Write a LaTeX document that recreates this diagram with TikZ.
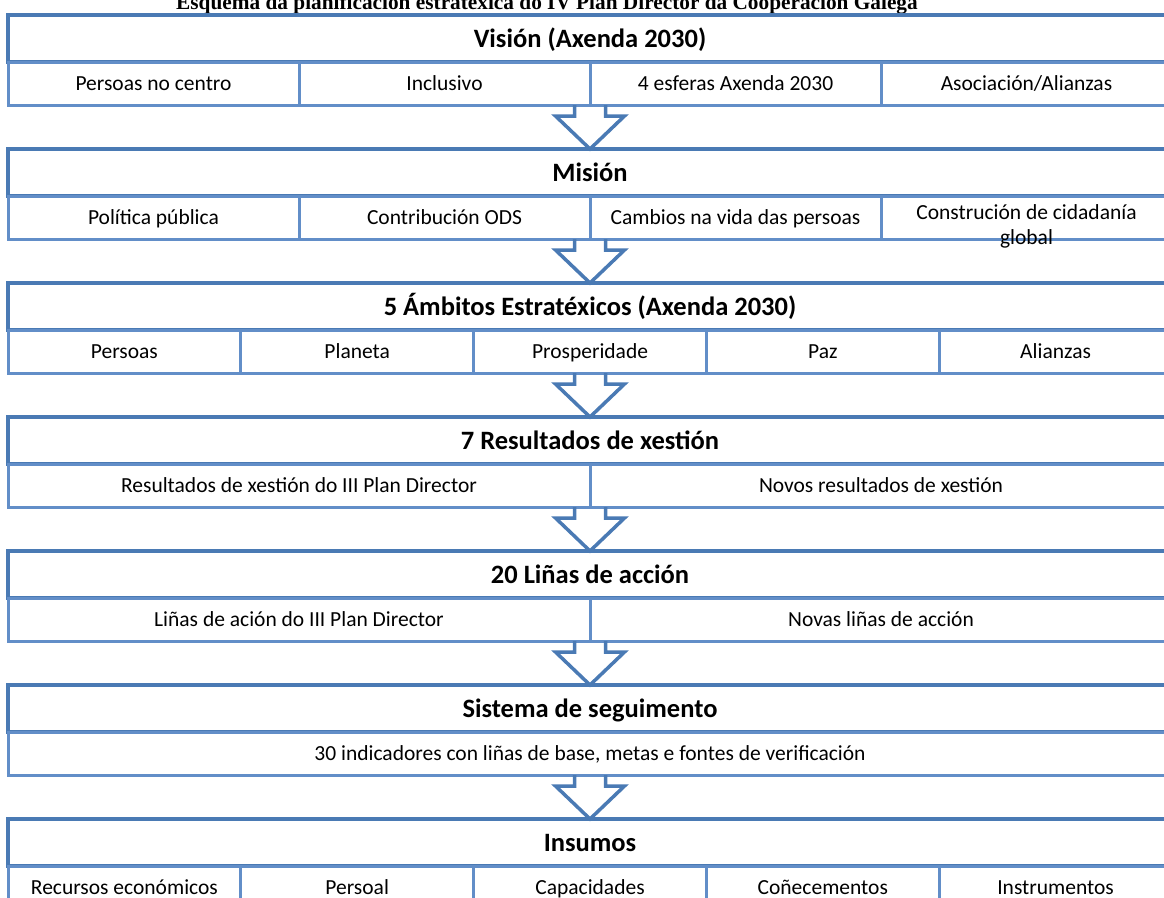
\documentclass[tikz,border=0pt]{standalone}
\usepackage{fontspec}
\setmainfont{Carlito}
\newfontfamily\titlefont{Liberation Serif}
\usetikzlibrary{calc}
\usetikzlibrary{positioning}
\definecolor{boxblue}{RGB}{74,122,180}
\definecolor{lineblue}{RGB}{98,142,200}
\tikzset{
  layerhead/.style = {draw=boxblue, line width=3.5pt, minimum width=1164pt,
    minimum height=47pt, inner sep=0pt, outer sep=0pt, anchor=north,
    font=\fontsize{26.5}{30}\selectfont\bfseries,
    text height=20pt, text depth=3pt},
  cell/.style = {draw=lineblue, line width=3pt, minimum height=43pt,
    inner sep=0pt, outer sep=0pt, anchor=north west, align=center,
    font=\fontsize{21.5}{25}\selectfont,
    text height=17pt, text depth=3pt},% celas de cada nivel
  blockarrow/.style = {draw=boxblue, line width=3.5pt, line join=miter},
}
% frecha oca entre dous niveis
\newcommand{\flowarrow}[2]{%
  \draw[blockarrow] ($(#1)+(-15.5,0)$) -- ++(0,11) -- ++(-19,0) -- (#2)
    -- ($(#1)+(34.5,11)$) -- ++(-19,0) -- ++(0,-11);
}

\begin{document}
\begin{tikzpicture}[x=1pt,y=-1pt]
\useasboundingbox (0,0) rectangle (1164,897);
\clip (0,0) rectangle (1164,897);

\node[anchor=base, font=\titlefont\bfseries\fontsize{21.3}{24}\selectfont] (title) at (547,9)
  {Esquema da planificación estratéxica do IV Plan Director da Cooperación Galega};

% Vision
\node[layerhead] (vis) at (590,15) {Visión (Axenda 2030)};
\foreach \txt [count=\i] in {Persoas no centro, Inclusivo, 4 esferas Axenda 2030, Asociación/Alianzas}
  \node[cell, minimum width=291pt] (vis\i) at ($(vis.south west)+({(\i-1)*291},0)$) {\txt};

% Mision
\node[layerhead] (mis) at (590,149) {Misión};
\foreach \txt [count=\i] in {Política pública, Contribución ODS, Cambios na vida das persoas,
    {\raisebox{5pt}{\begin{tabular}[t]{@{}c@{}}Construción de cidadanía\\global\end{tabular}}}}
  \node[cell, minimum width=291pt] (mis\i) at ($(mis.south west)+({(\i-1)*291},0)$) {\txt};

% Ambitos
\node[layerhead] (amb) at (590,283) {5 Ámbitos Estratéxicos (Axenda 2030)};
\foreach \txt [count=\i] in {Persoas, Planeta, Prosperidade, Paz, Alianzas}
  \node[cell, minimum width=232.8pt] (amb\i) at ($(amb.south west)+({(\i-1)*232.8},0)$) {\txt};

% Resultados
\node[layerhead] (res) at (590,417) {7 Resultados de xestión};
\foreach \txt [count=\i] in {Resultados de xestión do III Plan Director, Novos resultados de xestión}
  \node[cell, minimum width=582pt] (res\i) at ($(res.south west)+({(\i-1)*582},0)$) {\txt};

% Linas
\node[layerhead] (lin) at (590,551) {20 Liñas de acción};
\foreach \txt [count=\i] in {Liñas de ación do III Plan Director, Novas liñas de acción}
  \node[cell, minimum width=582pt] (lin\i) at ($(lin.south west)+({(\i-1)*582},0)$) {\txt};

% Seguimento
\node[layerhead] (seg) at (590,685) {Sistema de seguimento};
\node[cell, minimum width=1164pt] (seg1) at (seg.south west)
  {30 indicadores con liñas de base, metas e fontes de verificación};

% Insumos
\node[layerhead] (ins) at (590,819) {Insumos};
\foreach \txt [count=\i] in {Recursos económicos, Persoal, Capacidades, Coñecementos, Instrumentos}
  \node[cell, minimum width=232.8pt] (ins\i) at ($(ins.south west)+({(\i-1)*232.8},0)$) {\txt};

\flowarrow{vis2.south east}{mis.north}
\flowarrow{mis2.south east}{amb.north}
\flowarrow{amb3.south}{res.north}
\flowarrow{res1.south east}{lin.north}
\flowarrow{lin1.south east}{seg.north}
\flowarrow{seg1.south}{ins.north}
\end{tikzpicture}
\end{document}
